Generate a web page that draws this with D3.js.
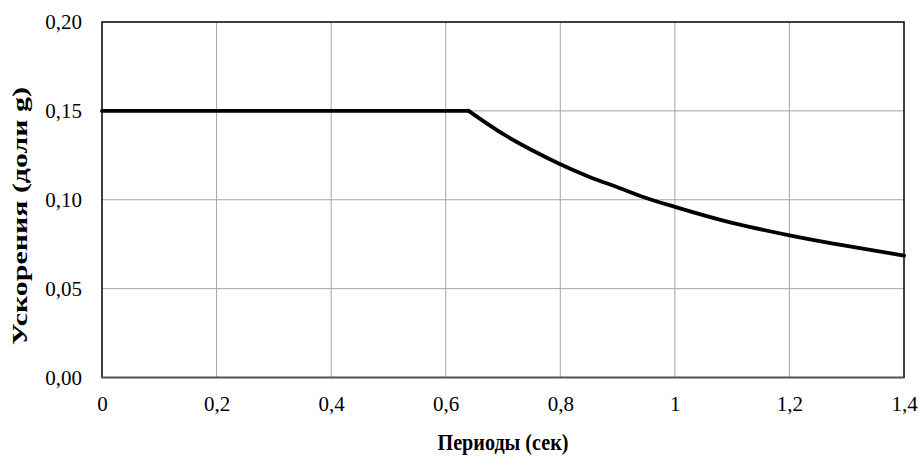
<!DOCTYPE html>
<html><head><meta charset="utf-8">
<script src="https://cdn.jsdelivr.net/npm/d3@7"></script>
<style>body{margin:0;background:#fff}svg{display:block}svg text{font-family:"Liberation Serif","Times New Roman",serif}</style>
</head><body>
<svg id="c" width="919" height="460"></svg>
<script>
const periods = [0, 0.1, 0.2, 0.3, 0.4, 0.5, 0.6, 0.64, 0.7, 0.75, 0.8, 0.85, 0.9, 0.95, 1.0, 1.1, 1.2, 1.3, 1.4];
const accel   = [0.15, 0.15, 0.15, 0.15, 0.15, 0.15, 0.15, 0.15, 0.137, 0.128, 0.120, 0.113, 0.107, 0.101, 0.096, 0.087, 0.080, 0.074, 0.0686];
const xTicks = [0, 0.2, 0.4, 0.6, 0.8, 1.0, 1.2, 1.4];
const yTicks = [0, 0.05, 0.10, 0.15, 0.20];
const xTitle = "Периоды (сек)";
const yTitle = "Ускорения (доли g)";

const svg = d3.select("#c");
const L = 102, R = 904, T = 22, B = 377.5;
const x = d3.scaleLinear().domain([0, 1.4]).range([L, R]);
const y = d3.scaleLinear().domain([0, 0.2]).range([B, T]);
const font = '"Liberation Serif","Times New Roman",serif';
const fmtX = d => d === 0 ? "0" : (Number.isInteger(d) ? String(d) : d3.format(".1f")(d).replace(".", ","));
const fmtY = d => d3.format(".2f")(d).replace(".", ",");

// grid
svg.append("g").selectAll("line").data(xTicks.slice(1, -1)).join("line")
  .attr("x1", d => x(d)).attr("x2", d => x(d)).attr("y1", T).attr("y2", B)
  .attr("stroke", "#a6a6a6").attr("stroke-width", 1);
svg.append("g").selectAll("line").data(yTicks.slice(1, -1)).join("line")
  .attr("y1", d => y(d)).attr("y2", d => y(d)).attr("x1", L).attr("x2", R)
  .attr("stroke", "#a6a6a6").attr("stroke-width", 1);

// border
svg.append("rect").attr("x", L).attr("y", T).attr("width", R - L).attr("height", B - T)
  .attr("fill", "none").attr("stroke", "#000").attr("stroke-width", 1.5);
svg.append("line").attr("x1", L).attr("x2", R).attr("y1", B).attr("y2", B)
  .attr("stroke", "#555").attr("stroke-width", 1.5);

// axes
const xa = svg.append("g").attr("transform", `translate(0,${B})`)
  .call(d3.axisBottom(x).tickValues(xTicks).tickSize(0).tickPadding(19).tickFormat(fmtX));
const ya = svg.append("g").attr("transform", `translate(${L},0)`)
  .call(d3.axisLeft(y).tickValues(yTicks).tickSize(0).tickPadding(20).tickFormat(fmtY));
[xa, ya].forEach(a => {
  a.attr("font-family", font).attr("font-size", 21);
  a.select(".domain").remove();
  a.selectAll("text").style("font-family", font).attr("font-size", 21).attr("fill", "#000");
});

// line: flat plateau (linear) + descending branch (smooth)
const idx = periods.indexOf(0.64);
const flat = d3.line().x(i => x(periods[i])).y(i => y(accel[i]));
const smooth = d3.line().x(i => x(periods[i])).y(i => y(accel[i])).curve(d3.curveMonotoneX);
const all = d3.range(periods.length);
svg.append("path").attr("d", flat(all.slice(0, idx + 1)))
  .attr("fill", "none").attr("stroke", "#000").attr("stroke-width", 3.8).attr("stroke-linecap", "round");
svg.append("path").attr("d", smooth(all.slice(idx)))
  .attr("fill", "none").attr("stroke", "#000").attr("stroke-width", 3.8).attr("stroke-linecap", "round");

// titles
svg.append("text").attr("x", 503).attr("y", 450).attr("text-anchor", "middle")
  .style("font-family", font).attr("font-size", 24).attr("font-weight", "bold")
  .attr("textLength", 131).attr("lengthAdjust", "spacingAndGlyphs").text(xTitle);
svg.append("text").attr("transform", `translate(27,216) rotate(-90)`).attr("text-anchor", "middle")
  .style("font-family", font).attr("font-size", 22).attr("font-weight", "bold")
  .attr("textLength", 258).attr("lengthAdjust", "spacingAndGlyphs").text(yTitle);
</script>
</body></html>
